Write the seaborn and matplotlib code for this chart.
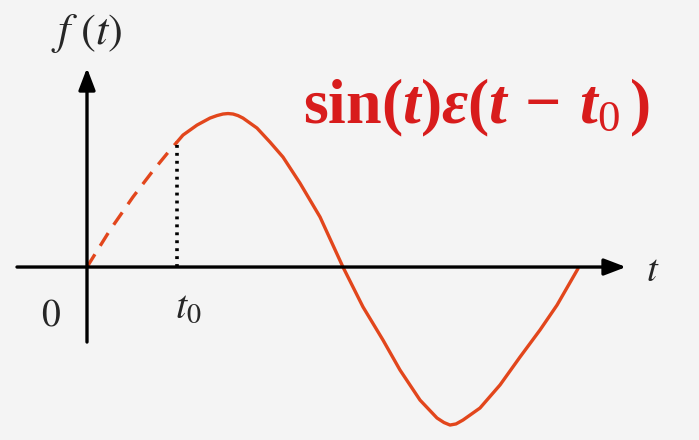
import matplotlib
matplotlib.use("Agg")
import matplotlib.pyplot as plt
import seaborn as sns
import pandas as pd

# ---- data (t in rad-like units, f normalised) ----
t_vals = [0.000, 0.294, 0.587, 0.830, 1.060, 1.149, 1.226, 1.405, 1.571,
          1.660, 1.737, 1.801, 1.865, 1.928, 1.992, 2.171, 2.337, 2.503,
          2.720, 2.976, 3.269, 3.525, 3.780, 3.997, 4.253, 4.470, 4.559,
          4.636, 4.713, 4.802, 5.019, 5.275, 5.530, 5.785, 6.003, 6.271]
f_vals = [0.000, 0.237, 0.449, 0.609, 0.750, 0.801, 0.846, 0.910, 0.955,
          0.971, 0.981, 0.984, 0.981, 0.971, 0.955, 0.891, 0.801, 0.705,
          0.538, 0.321, 0.000, -0.256, -0.468, -0.660, -0.853, -0.968, -0.997,
          -1.013, -1.006, -0.981, -0.904, -0.756, -0.577, -0.404, -0.244,
          -0.010]
t0 = 1.149
f_t0 = 0.795
axis_x = [-0.894, 6.884]
axis_y = [-0.481, 1.276]

title_text = r"$\mathrm{sin}(t)\varepsilon(t\,-\,t_{\mathsf{0}}\,)$"
ylabel_text = r"$f\ (t)$"
xlabel_text = r"$t$"
origin_text = r"$0$"
t0_text = r"$t_0$"

sns.set_theme(style="white")
plt.rcParams["mathtext.fontset"] = "custom"
plt.rcParams["mathtext.rm"] = "Liberation Serif:bold"
plt.rcParams["mathtext.it"] = "Liberation Serif:italic:bold"
plt.rcParams["mathtext.bf"] = "Liberation Serif:bold"
plt.rcParams["mathtext.sf"] = "Liberation Serif"

df = pd.DataFrame({"t": t_vals, "f": f_vals})
df_dash = df[df["t"] <= t0]
df_solid = df[df["t"] >= t0]

bg = "#f4f4f4"
curve_col = "#e2461c"
title_col = "#d81c1c"

fig = plt.figure(figsize=(6.99, 4.40), dpi=100, facecolor=bg)
ax = fig.add_axes([0, 0, 1, 1])
ax.set_facecolor(bg)
ax.set_xlim(-1.111, 7.816)
ax.set_ylim(-1.109, 1.712)
ax.axis("off")

# axes with arrows
arrow_kw = dict(arrowstyle="-|>,head_length=1.1,head_width=0.42", lw=2.4,
                color="black", shrinkA=0, shrinkB=0)
ax.annotate("", xy=(axis_x[1], 0), xytext=(axis_x[0], 0), arrowprops=arrow_kw)
ax.annotate("", xy=(0, axis_y[1]), xytext=(0, axis_y[0]), arrowprops=arrow_kw)

# curve
sns.lineplot(data=df_dash, x="t", y="f", ax=ax, sort=False, color=curve_col,
             lw=2.4, estimator=None)
ax.lines[-1].set_dashes((4.5, 3.0))
sns.lineplot(data=df_solid, x="t", y="f", ax=ax, sort=False, color=curve_col,
             lw=2.4, estimator=None)
ax.lines[-1].set_solid_capstyle("round")
ax.lines[-1].set_solid_joinstyle("round")

# dotted line at t0
ax.vlines(t0, 0, f_t0, colors="black", lw=2.6, linestyles=(0, (0.8, 1.4)))

# labels
ax.text(0, 1.43, ylabel_text, ha="center", va="baseline", fontsize=32,
        math_fontfamily="stix")
ax.text(7.23, -0.09, xlabel_text, ha="center", va="baseline", fontsize=28,
        math_fontfamily="stix")
ax.text(-0.46, -0.372, origin_text, ha="center", va="baseline", fontsize=27,
        math_fontfamily="stix")
ax.text(1.29, -0.327, t0_text, ha="center", va="baseline", fontsize=29,
        math_fontfamily="stix")

fig.text(303 / 699, 1 - 123 / 440, title_text, ha="left", va="baseline",
         fontsize=46, color=title_col)

fig.savefig("out.png", dpi=100, facecolor=bg)
